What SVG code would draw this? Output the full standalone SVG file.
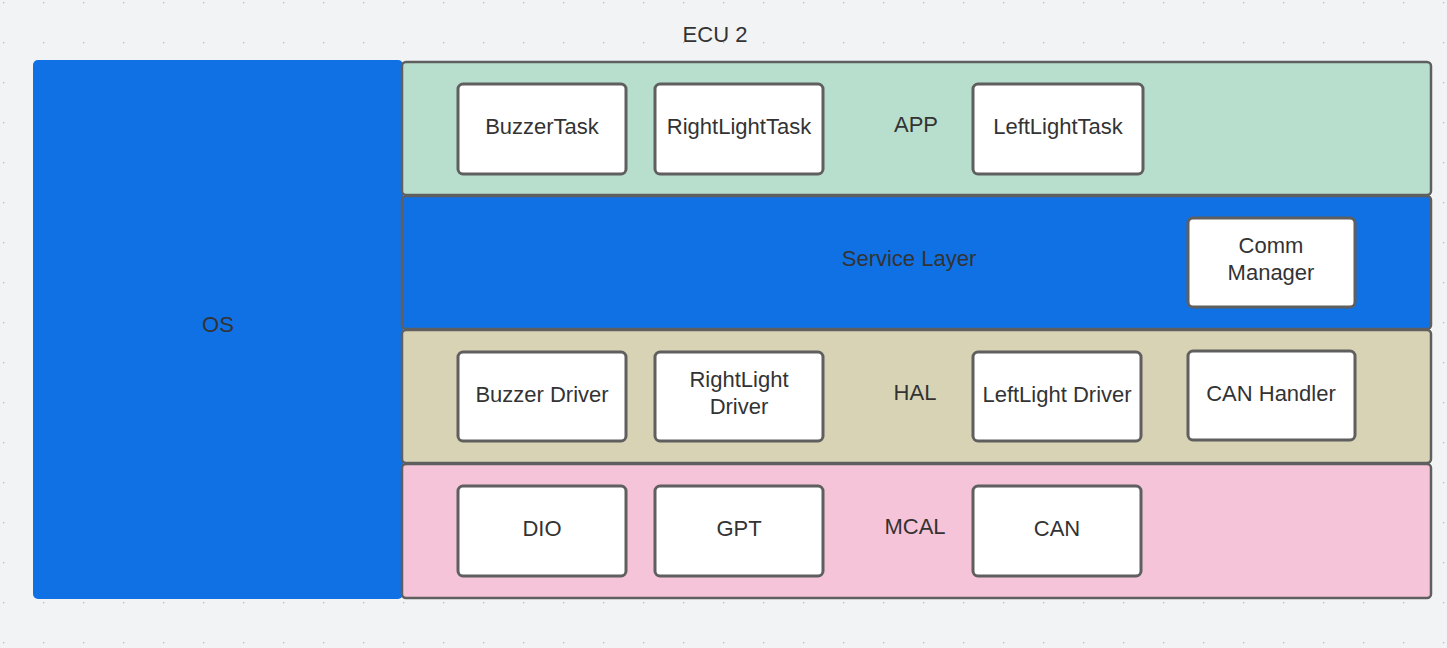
<svg xmlns="http://www.w3.org/2000/svg" width="1447" height="648" viewBox="0 0 1447 648">
<defs>
<pattern id="grid" x="3" y="2" width="40" height="40" patternUnits="userSpaceOnUse">
<path d="M-1.5 0H1.5M0 -1.5V1.5" stroke="#9a9ca0" stroke-width="0.8"/>
</pattern>
</defs>
<style>
.lbl{font-family:"Liberation Sans",Arial,sans-serif;font-size:22px;fill:#333333;text-anchor:middle;dominant-baseline:central}
.layer{stroke:#5f5f5f;stroke-width:2.5}
.box{fill:#ffffff;stroke:#5f5f5f;stroke-width:3}
</style>
<rect width="1447" height="648" fill="#f2f3f5"/>
<rect width="1447" height="648" fill="url(#grid)"/>
<text class="lbl" x="715" y="34">ECU 2</text>
<g id="os">
<rect x="33" y="60" width="370" height="539" rx="5" fill="#1071e5"/>
<text class="lbl" x="218" y="324">OS</text>
</g>
<g id="app">
<rect class="layer" x="402" y="62" width="1029" height="133" rx="4" fill="#b8dfcd"/>
<text class="lbl" x="916" y="124">APP</text>
</g>
<g id="service">
<rect class="layer" x="402" y="196" width="1029" height="133" rx="4" fill="#1071e5"/>
<text class="lbl" x="909" y="258">Service Layer</text>
</g>
<g id="hal">
<rect class="layer" x="402" y="330" width="1029" height="133" rx="4" fill="#d9d3b6"/>
<text class="lbl" x="915" y="392">HAL</text>
</g>
<g id="mcal">
<rect class="layer" x="402" y="464" width="1029" height="134" rx="4" fill="#f5c4d8"/>
<text class="lbl" x="915" y="526">MCAL</text>
</g>
<g id="buzzertask"><rect class="box" x="458" y="84" width="168" height="90" rx="5"/><text class="lbl" x="542" y="126">BuzzerTask</text></g>
<g id="rightlighttask"><rect class="box" x="655" y="84" width="168" height="90" rx="5"/><text class="lbl" x="739" y="126">RightLightTask</text></g>
<g id="leftlighttask"><rect class="box" x="973" y="84" width="170" height="90" rx="5"/><text class="lbl" x="1058" y="126">LeftLightTask</text></g>
<g id="commmanager"><rect class="box" x="1188" y="218" width="167" height="89" rx="5"/><text class="lbl" x="1271" y="245">Comm</text><text class="lbl" x="1271" y="272">Manager</text></g>
<g id="buzzerdriver"><rect class="box" x="458" y="352" width="168" height="89" rx="5"/><text class="lbl" x="542" y="394">Buzzer Driver</text></g>
<g id="rightlightdriver"><rect class="box" x="655" y="352" width="168" height="89" rx="5"/><text class="lbl" x="739" y="379">RightLight</text><text class="lbl" x="739" y="406">Driver</text></g>
<g id="leftlightdriver"><rect class="box" x="973" y="352" width="168" height="89" rx="5"/><text class="lbl" x="1057" y="394">LeftLight Driver</text></g>
<g id="canhandler"><rect class="box" x="1188" y="351" width="167" height="89" rx="5"/><text class="lbl" x="1271" y="393">CAN Handler</text></g>
<g id="dio"><rect class="box" x="458" y="486" width="168" height="90" rx="5"/><text class="lbl" x="542" y="528">DIO</text></g>
<g id="gpt"><rect class="box" x="655" y="486" width="168" height="90" rx="5"/><text class="lbl" x="739" y="528">GPT</text></g>
<g id="can"><rect class="box" x="973" y="486" width="168" height="90" rx="5"/><text class="lbl" x="1057" y="528">CAN</text></g>
<g id="connectors"></g>
</svg>
